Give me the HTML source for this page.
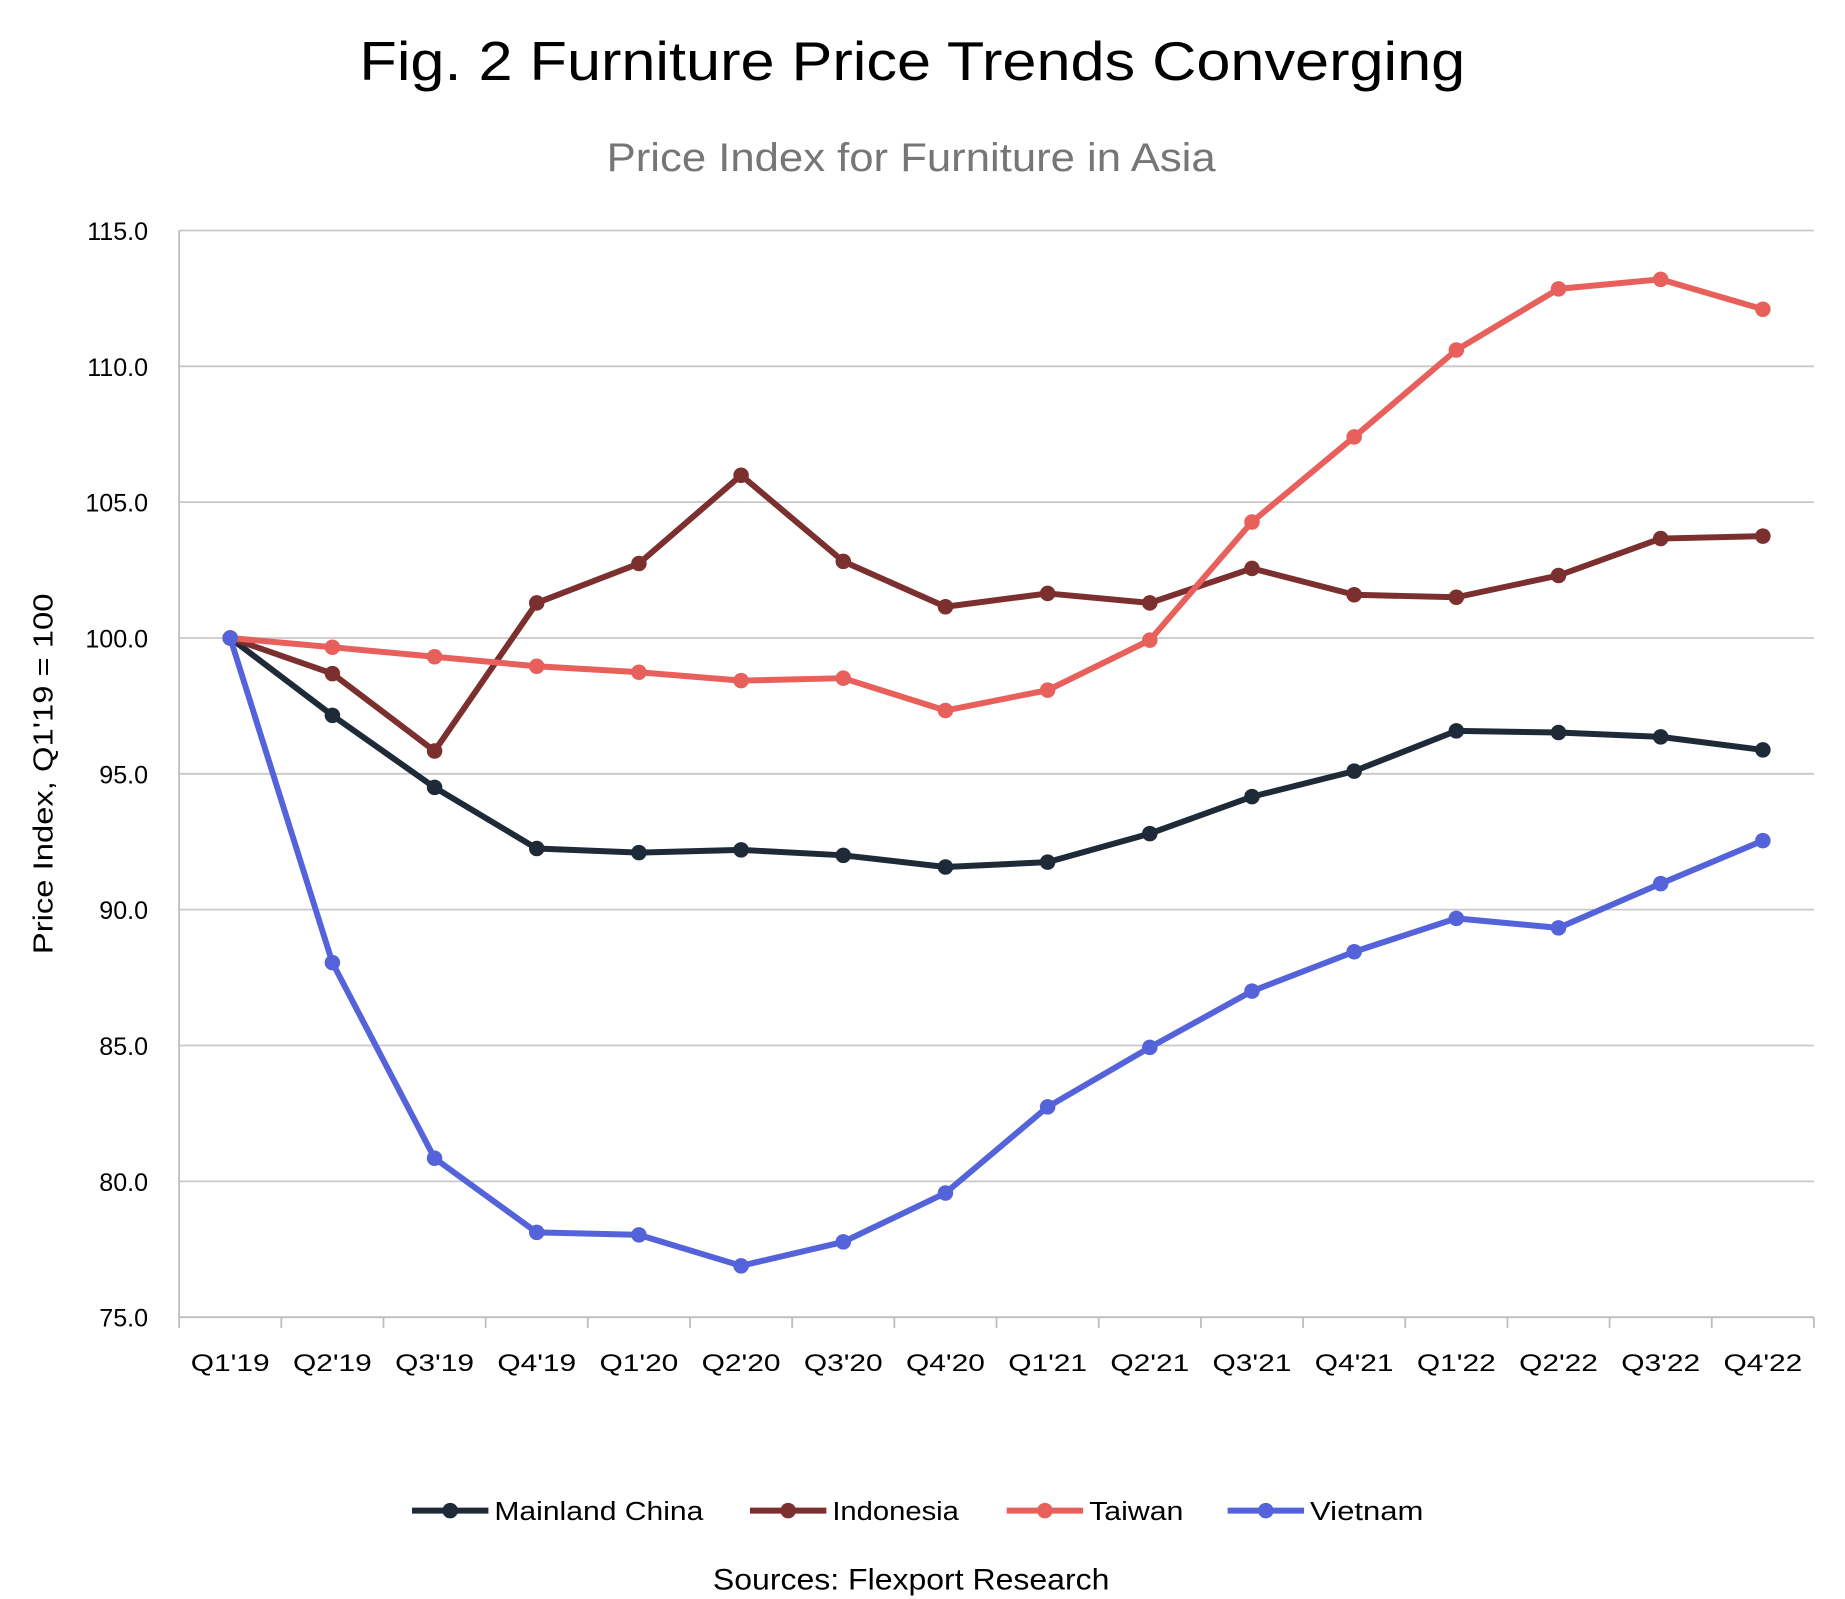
<!DOCTYPE html>
<html><head><meta charset="utf-8"><style>
html,body{margin:0;padding:0;background:#fff;}
svg{display:block;font-family:"Liberation Sans",sans-serif;}
</style></head><body>
<svg id="chart" width="1845" height="1599" viewBox="0 0 1545 1339" xmlns="http://www.w3.org/2000/svg">
<text x="764" y="67" text-anchor="middle" font-size="46" textLength="926" lengthAdjust="spacingAndGlyphs" fill="#000">Fig. 2 Furniture Price Trends Converging</text>
<text x="763" y="143" text-anchor="middle" font-size="33" textLength="510" lengthAdjust="spacingAndGlyphs" fill="#767676">Price Index for Furniture in Asia</text>
<text transform="translate(44,648) rotate(-90)" text-anchor="middle" font-size="23" textLength="302" lengthAdjust="spacingAndGlyphs" fill="#000">Price Index, Q1'19 = 100</text>
<g id="grid"></g><g id="axes"></g><g id="series"></g>
<g id="legend"></g>
<text x="763" y="1340" text-anchor="middle" font-size="25" textLength="332" lengthAdjust="spacingAndGlyphs" fill="#000" transform="translate(0,-9)">Sources: Flexport Research</text>
</svg>
<script>
const categories=["Q1'19","Q2'19","Q3'19","Q4'19","Q1'20","Q2'20","Q3'20","Q4'20","Q1'21","Q2'21","Q3'21","Q4'21","Q1'22","Q2'22","Q3'22","Q4'22"];
const yTicks=[75,80,85,90,95,100,105,110,115];
const seriesNames=["Mainland China","Indonesia","Taiwan","Vietnam"];
const seriesColors=["#1f2a38","#7b2f2e","#e8605b","#5563db"];
const chinaValues=[100,97.15,94.5,92.25,92.1,92.2,92.0,91.57,91.75,92.8,94.16,95.1,96.58,96.52,96.36,95.88];
const indonesiaValues=[100,98.69,95.84,101.29,102.74,105.99,102.82,101.15,101.64,101.29,102.56,101.59,101.5,102.3,103.66,103.75];
const taiwanValues=[100,99.66,99.31,98.96,98.74,98.43,98.52,97.33,98.08,99.92,104.27,107.4,110.6,112.85,113.2,112.1];
const vietnamValues=[100,88.05,80.85,78.12,78.03,76.89,77.77,79.57,82.74,84.93,87.0,88.45,89.68,89.33,90.96,92.54];
const allValues=[chinaValues,indonesiaValues,taiwanValues,vietnamValues];

const NS="http://www.w3.org/2000/svg";
const L=150,R=1519,T=193,B=1103,yMin=75,yMax=115;
const band=(R-L)/categories.length;
const xScale=i=>L+band*(i+0.5);
const yScale=v=>B-(v-yMin)/(yMax-yMin)*(B-T);
function mk(tag,attrs,parent){const e=document.createElementNS(NS,tag);for(const k in attrs)e.setAttribute(k,attrs[k]);parent.appendChild(e);return e;}
const grid=document.getElementById('grid'),axes=document.getElementById('axes'),ser=document.getElementById('series'),leg=document.getElementById('legend');
yTicks.forEach(t=>{
  const y=yScale(t);
  if(t!==yMin){const g=mk('line',{x1:L,x2:R,y1:y,y2:y,stroke:'#c8c8c8','stroke-width':1.5},grid);
  
  }
  const lb=mk('text',{x:124,y:y+8,'text-anchor':'end','font-size':21,fill:'#000'},axes);lb.textContent=t.toFixed(1);
  
  
});
const ya=mk('line',{x1:L,x2:L,y1:T,y2:B,stroke:'#bdbdbd','stroke-width':1.5},axes);


const xa=mk('line',{x1:L,x2:R,y1:B,y2:B,stroke:'#bdbdbd','stroke-width':1.5},axes);


for(let i=0;i<=categories.length;i++){const x=L+band*i;const tk=mk('line',{x1:x,x2:x,y1:B,y2:B+9,stroke:'#bdbdbd','stroke-width':1.5},axes);
  
  }
categories.forEach((c,i)=>{const t=mk('text',{x:xScale(i),y:1148,'text-anchor':'middle','font-size':20,textLength:66,lengthAdjust:'spacingAndGlyphs',fill:'#000'},axes);t.textContent=c;
  
  });
// draw in order so Vietnam on top at start
allValues.forEach((vals,s)=>{
  const g=mk('g',{},ser);
  
  
  const p=mk('polyline',{points:vals.map((v,i)=>xScale(i)+','+yScale(v)).join(' '),fill:'none',stroke:seriesColors[s],'stroke-width':5,'stroke-linejoin':'round'},g);
  
  
  vals.forEach((v,i)=>{const c=mk('circle',{cx:xScale(i),cy:yScale(v),r:6.5,fill:seriesColors[s]},g);
    
    });
});
const legX=[345,628,843,1028],legW=[244,175,148,164];
seriesNames.forEach((n,s)=>{
  const g=mk('g',{},leg);
  
  
  mk('line',{x1:legX[s],x2:legX[s]+64,y1:1265,y2:1265,stroke:seriesColors[s],'stroke-width':5},g);
  mk('circle',{cx:legX[s]+32,cy:1265,r:6.5,fill:seriesColors[s]},g);
  const t=mk('text',{x:legX[s]+69,y:1273,'font-size':22,fill:'#000',textLength:legW[s]-69+0,lengthAdjust:'spacingAndGlyphs'},g);t.textContent=n;
});
</script>
</body></html>
